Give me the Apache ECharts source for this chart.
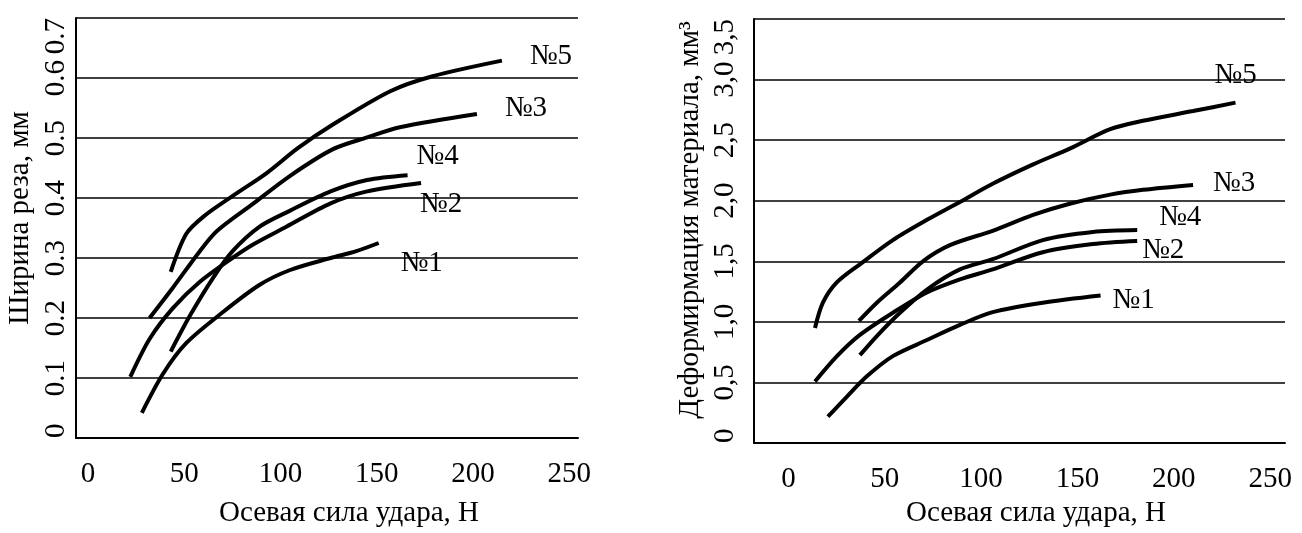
<!DOCTYPE html>
<html><head><meta charset="utf-8">
<script src="https://cdn.jsdelivr.net/npm/echarts@6/dist/echarts.min.js"></script>
<style>html,body{margin:0;padding:0;background:#fff}#c{width:1302px;height:533px}</style>
</head><body><div id="c"></div>
<script>
// ---- shared ----
const xTickValues = [0, 50, 100, 150, 200, 250];
const xAxisTitle = 'Осевая сила удара, Н';
const curveNames = ['№1', '№2', '№3', '№4', '№5'];

// ---- left chart: cut width ----
const leftYTitle = 'Ширина реза, мм';
const leftYTicks = [0, 0.1, 0.2, 0.3, 0.4, 0.5, 0.6, 0.7];
const width1 = [[28,0.042],[39,0.107],[51,0.158],[69,0.207],[89,0.255],[105,0.28],[126,0.30],[139,0.311],[151,0.325]];
const width2 = [[22,0.102],[32,0.165],[44,0.216],[58,0.26],[75,0.30],[86,0.323],[103,0.352],[126,0.391],[145,0.411],[173,0.425]];
const width3 = [[32,0.20],[44,0.25],[58,0.311],[67,0.345],[86,0.391],[105,0.437],[127,0.481],[145,0.501],[162,0.518],[202,0.54]];
const width4 = [[43,0.144],[53,0.204],[65,0.267],[75,0.311],[89,0.352],[105,0.379],[126,0.411],[145,0.43],[166,0.438]];
const width5 = [[43,0.277],[51,0.34],[60,0.369],[75,0.403],[93,0.442],[109,0.483],[127,0.522],[157,0.578],[179,0.603],[215,0.629]];

// ---- right chart: material deformation ----
const rightYTitle = 'Деформирмация материала, мм³';
const rightYTicks = [0, 0.5, 1.0, 1.5, 2.0, 2.5, 3.0, 3.5];
const deform1 = [[20.5,0.217],[30.4,0.383],[40.7,0.55],[54.2,0.717],[71.9,0.85],[89,0.975],[106,1.08],[132,1.158],[162,1.217]];
const deform2 = [[13.8,0.508],[25.2,0.717],[37.1,0.892],[54.2,1.075],[71.9,1.242],[89,1.35],[106,1.433],[132,1.575],[158,1.642],[181,1.667]];
const deform3 = [[36.6,1.008],[45.9,1.158],[57.9,1.325],[69.8,1.50],[83.8,1.633],[106,1.752],[127,1.883],[146,1.975],[167,2.05],[184,2.09],[210,2.13]];
const deform4 = [[37.1,0.725],[45.9,0.883],[57.9,1.075],[71.9,1.267],[89,1.433],[106,1.517],[132,1.675],[158,1.742],[181,1.758]];
const deform5 = [[13.8,0.95],[17.9,1.158],[25.1,1.325],[37.1,1.475],[54.2,1.675],[71.9,1.842],[89,1.99],[106,2.14],[127,2.3],[146,2.43],[167,2.59],[184,2.66],[210,2.74],[232,2.81]];

const FONT = '"Liberation Serif", "Times New Roman", serif';
const FS = 29;
const black = '#000';

const leftSeries = [width1, width2, width3, width4, width5];
const rightSeries = [deform1, deform2, deform3, deform4, deform5];
// label offsets (style) for end labels
const leftLabelOffsets = [[17,20],[-6,21],[23,-6],[4,-19],[23,-4]];
const rightLabelOffsets = [[7,5],[0,9],[15,-2],[17,-13],[-26,-27]];

function xAxisCfg(gridIndex, min, max, gap, shift) {
  return {
    type: 'value', gridIndex, min, max,
    axisLine: { show: true, onZero: false, lineStyle: { color: black, width: 2 } },
    axisTick: { show: false },
    splitLine: { show: false },
    axisLabel: { customValues: xTickValues, margin: 22, color: black, fontFamily: FONT, fontSize: FS },
    name: xAxisTitle, nameLocation: 'middle', nameGap: gap,
    nameTextStyle: { color: black, fontFamily: FONT, fontSize: FS, padding: [0, 0, 0, shift] }
  };
}
function yAxisCfg(gridIndex, ticks, fmt, labelMargin, gap, shift, title) {
  return {
    type: 'value', gridIndex, min: ticks[0], max: ticks[ticks.length - 1],
    interval: ticks[1] - ticks[0],
    axisLine: { show: true, onZero: false, lineStyle: { color: black, width: 2 } },
    axisTick: { show: false },
    splitLine: { show: true, lineStyle: { color: black, width: 1.6 } },
    axisLabel: { rotate: 90, margin: labelMargin, color: black, fontFamily: FONT, fontSize: FS, formatter: fmt,
                 alignMinLabel: 'left', alignMaxLabel: 'right' },
    name: title, nameLocation: 'middle', nameGap: gap,
    nameTextStyle: { color: black, fontFamily: FONT, fontSize: FS, padding: [0, 0, 0, shift] }
  };
}
function lineSeries(data, xi, name, off) {
  return {
    type: 'line', name, data, xAxisIndex: xi, yAxisIndex: xi,
    smooth: 0.3, symbol: 'none', clip: false,
    lineStyle: { color: black, width: 4 },
    endLabel: { show: true, formatter: name, color: black, fontFamily: FONT, fontSize: FS, offset: off, distance: 5 },
    silent: true, animation: false
  };
}

const chart = echarts.init(document.getElementById('c'), null, { renderer: 'canvas' });
const series = [];
leftSeries.forEach((d, i) => series.push(lineSeries(d, 0, curveNames[i], leftLabelOffsets[i])));
rightSeries.forEach((d, i) => series.push(lineSeries(d, 1, curveNames[i], rightLabelOffsets[i])));

chart.setOption({
  backgroundColor: '#fff',
  animation: false,
  grid: [
    { left: 76, top: 18, width: 502, height: 421 },
    { left: 754, top: 19, width: 531, height: 428 }
  ],
  xAxis: [
    xAxisCfg(0, -6.2, 254.5, 61, 44),
    xAxisCfg(1, -17.85, 257.7, 56, 33)
  ],
  yAxis: [
    yAxisCfg(0, leftYTicks, v => v === 0 ? '0' : v.toFixed(1), 5, 41, 20, leftYTitle),
    yAxisCfg(1, rightYTicks, v => v === 0 ? '0' : v.toFixed(1).replace('.', ','), 14, 49, 22, rightYTitle)
  ],
  series
});
</script>
</body></html>
